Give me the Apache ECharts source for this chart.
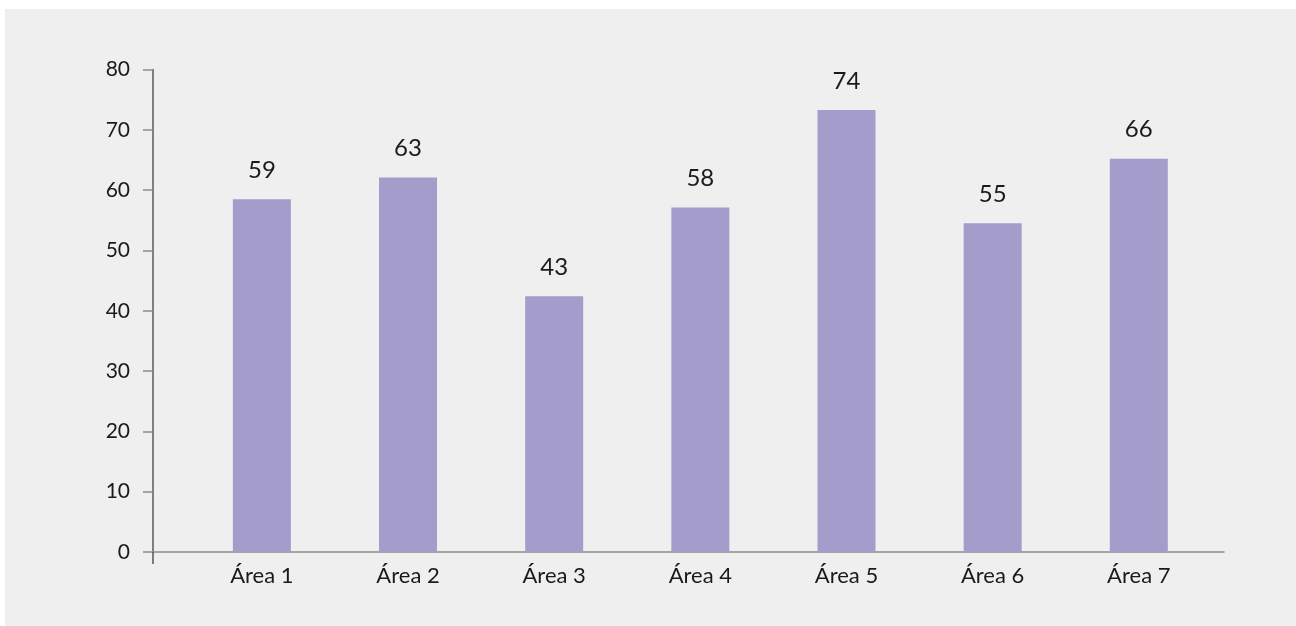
<!DOCTYPE html>
<html>
<head>
<meta charset="utf-8">
<script src="https://cdn.jsdelivr.net/npm/echarts@6/dist/echarts.min.js"></script>
<style>
  html, body { margin: 0; padding: 0; background: #ffffff; }
  #chart { position: absolute; left: 5px; top: 9px; width: 1291px; height: 617px; background: #efefef; }
</style>
</head>
<body>
<div id="chart"></div>
<script>
const categories = ['Área 1', 'Área 2', 'Área 3', 'Área 4', 'Área 5', 'Área 6', 'Área 7'];
const values = [58.5, 62.1, 42.4, 57.1, 73.3, 54.5, 65.2];
const valueLabels = ['59', '63', '43', '58', '74', '55', '66'];
const yTicks = [0, 10, 20, 30, 40, 50, 60, 70, 80];

const xMin = -0.745, xMax = 6.583;
const chart = echarts.init(document.getElementById('chart'));
const font = 'Lato, "Noto Sans", sans-serif';

chart.setOption({
  backgroundColor: '#efefef',
  animation: false,
  grid: { left: 148, right: 72, top: 60.5, bottom: 74, containLabel: false },
  xAxis: {
    type: 'value',
    min: xMin,
    max: xMax,
    splitLine: { show: false },
    axisLine: { show: true, onZero: false, lineStyle: { color: '#8c8c8c', width: 1.5 } },
    axisTick: { show: true, customValues: [xMin], length: 12, lineStyle: { color: '#555', width: 1.5 } },
    axisLabel: {
      customValues: categories.map((c, i) => i),
      formatter: v => categories[Math.round(v)],
      margin: 13,
      color: '#1a1a1a',
      fontSize: 22,
      fontFamily: font
    }
  },
  yAxis: {
    type: 'value',
    min: yTicks[0],
    max: yTicks[yTicks.length - 1],
    interval: 10,
    splitLine: { show: false },
    axisLine: { show: true, onZero: false, lineStyle: { color: '#5a5a5a', width: 1.5 } },
    axisTick: { show: true, length: 10, lineStyle: { color: '#8c8c8c', width: 1.5 } },
    axisLabel: { margin: 23, color: '#1a1a1a', fontSize: 21, fontFamily: font }
  },
  series: [{
    type: 'bar',
    barWidth: 58,
    data: values.map((v, i) => [i, v]),
    itemStyle: { color: '#a49ccb' },
    label: {
      show: true,
      position: 'top',
      distance: 17,
      formatter: p => valueLabels[p.dataIndex],
      color: '#1a1a1a',
      fontSize: 24,
      fontFamily: font
    }
  }]
});
</script>
</body>
</html>
